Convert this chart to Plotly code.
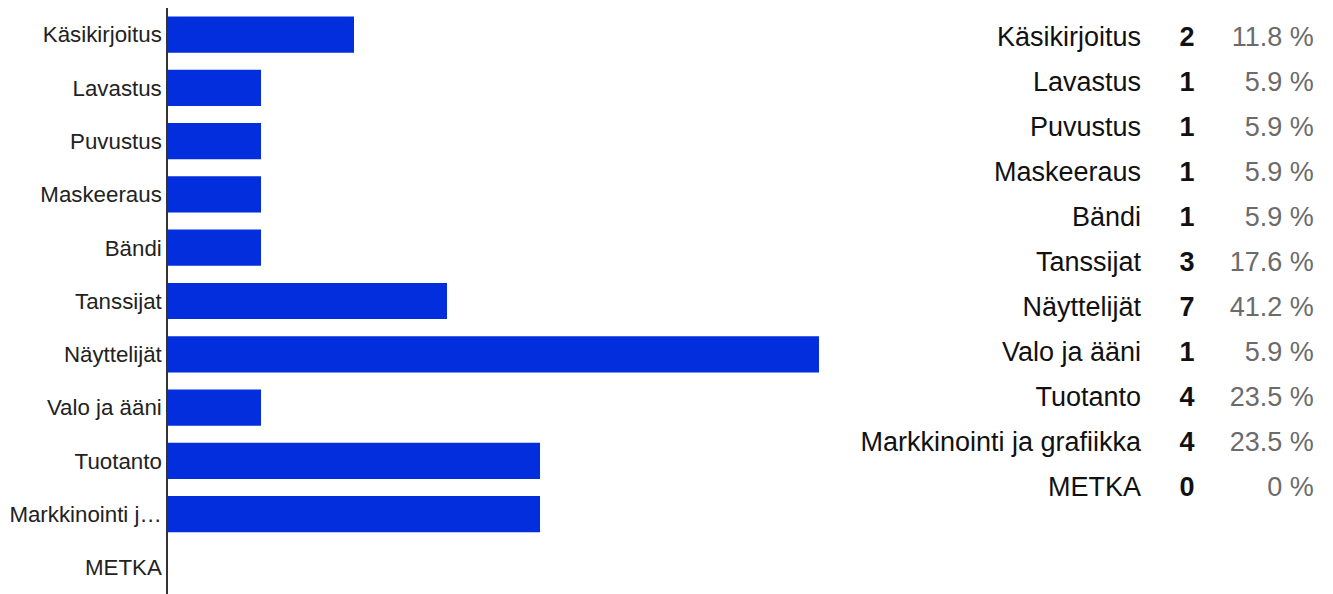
import plotly.graph_objects as go

categories = ["Käsikirjoitus", "Lavastus", "Puvustus", "Maskeeraus", "Bändi", "Tanssijat",
              "Näyttelijät", "Valo ja ääni", "Tuotanto", "Markkinointi ja grafiikka", "METKA"]
tick_labels = ["Käsikirjoitus", "Lavastus", "Puvustus", "Maskeeraus", "Bändi", "Tanssijat",
               "Näyttelijät", "Valo ja ääni", "Tuotanto", "Markkinointi j…", "METKA"]
counts = [2, 1, 1, 1, 1, 3, 7, 1, 4, 4, 0]
percents = ["11.8 %", "5.9 %", "5.9 %", "5.9 %", "5.9 %", "17.6 %", "41.2 %", "5.9 %",
            "23.5 %", "23.5 %", "0 %"]

FONT = "Liberation Sans, Arial, sans-serif"
BAR = "#032EDE"

fig = go.Figure()
fig.add_trace(go.Bar(
    x=counts, y=categories, orientation="h",
    marker=dict(color=BAR, line=dict(width=0)),
    width=0.68, xaxis="x", yaxis="y", hoverinfo="x+y", showlegend=False,
))

# table on the right
n = len(categories)
fig.add_trace(go.Scatter(
    x=[0.574] * n, y=categories, mode="text", text=categories, cliponaxis=False,
    textposition="middle left", textfont=dict(family=FONT, size=27, color="#111111"),
    xaxis="x2", yaxis="y2", showlegend=False, hoverinfo="skip",
))
fig.add_trace(go.Scatter(
    x=[0.672] * n, y=categories, mode="text", text=[f"<b>{c}</b>" for c in counts],
    cliponaxis=False,
    textposition="middle center", textfont=dict(family=FONT, size=27, color="#111111"),
    xaxis="x2", yaxis="y2", showlegend=False, hoverinfo="skip",
))
fig.add_trace(go.Scatter(
    x=[0.942] * n, y=categories, mode="text", text=percents, cliponaxis=False,
    textposition="middle left", textfont=dict(family=FONT, size=27, color="#6b6b6b"),
    xaxis="x2", yaxis="y2", showlegend=False, hoverinfo="skip",
))

fig.update_layout(
    width=1333, height=594,
    margin=dict(l=160, r=0, t=0, b=0, autoexpand=False),
    paper_bgcolor="white", plot_bgcolor="white",
    font=dict(family=FONT, color="#222222"),
    xaxis=dict(domain=[0, 0.555], range=[0, 7], showgrid=False, zeroline=False,
               showticklabels=False, showline=False, fixedrange=True, automargin=False),
    yaxis=dict(domain=[8 / 594, 1], range=[10.5, -0.5], type="category",
               categoryorder="array", categoryarray=categories,
               tickmode="array", tickvals=categories, ticktext=tick_labels,
               tickfont=dict(family=FONT, size=22.3, color="#222222"), automargin=False,
               showline=True, linecolor="#333333", linewidth=1.5,
               showgrid=False, zeroline=False, ticks="", ticklabelstandoff=0),
    xaxis2=dict(domain=[0.6, 1], range=[0, 1], visible=False, anchor="y2"),
    yaxis2=dict(domain=[1 - 503.5 / 594, 1 - 8.5 / 594], range=[10.5, -0.5], type="category",
                categoryorder="array", categoryarray=categories, visible=False, anchor="x2"),
)

fig.write_html("out.html")
